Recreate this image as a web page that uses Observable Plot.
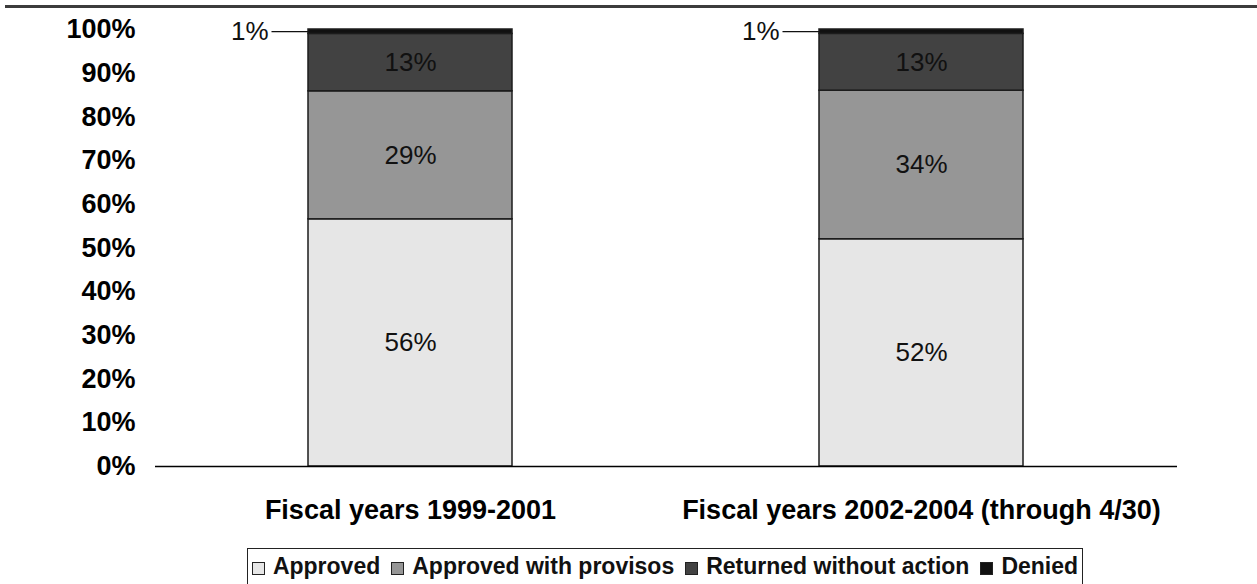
<!DOCTYPE html>
<html>
<head>
<meta charset="utf-8">
<script src="https://cdn.jsdelivr.net/npm/d3@7"></script>
<script src="https://cdn.jsdelivr.net/npm/@observablehq/plot@0.6"></script>
<style>
html, body { margin: 0; padding: 0; background: #fff; }
#wrap { position: relative; width: 1257px; height: 584px; overflow: hidden; font-family: "Liberation Sans", Arial, Helvetica, sans-serif; }
#rule { position: absolute; left: 5px; right: 0; top: 5px; height: 3px; background: #3c3c3c; }
#chart { position: absolute; left: 0; top: 0; }
#legend { position: absolute; top: 548px; left: 247px; width: 836px; height: 50px; box-sizing: border-box; border: 1.5px solid #222; display: flex; justify-content: center; align-items: center; align-content: flex-start; padding-top: 4px; height: 60px; align-items: flex-start; font-weight: bold; font-size: 23px; line-height: 26px; color: #111; }
.item { display: flex; align-items: center; margin-right: 11px; white-space: nowrap; }
.item:last-child { margin-right: 0; }
.sw { width: 11px; height: 11px; border: 1px solid #222; margin-right: 8px; position: relative; top: 2px; }
</style>
</head>
<body>
<div id="wrap">
  <div id="rule"></div>
  <div id="chart"></div>
  <div id="legend"></div>
</div>
<script>
// ---- data ----
const periods = ["Fiscal years 1999-2001", "Fiscal years 2002-2004 (through 4/30)"];
const statuses = ["Approved", "Approved with provisos", "Returned without action", "Denied"];
const approved = [56, 52];
const provisos = [29, 34];
const returned = [13, 13];
const denied = [1, 1];
const yTicks = [0, 10, 20, 30, 40, 50, 60, 70, 80, 90, 100];

// ---- styles ----
const colors = ["#e6e6e6", "#969696", "#424242", "#111111"];

const series = [approved, provisos, returned, denied];
const data = periods.flatMap((p, i) =>
  statuses.map((s, j) => ({period: p, status: s, value: series[j][i]}))
);

const stackOpts = {x: "period", y: "value", z: "status", offset: "normalize"};
const leader = {draw(ctx) { ctx.moveTo(-37, 0); ctx.lineTo(0, 0); }};

const plot = Plot.plot({
  width: 1257,
  height: 540,
  marginTop: 29,
  marginBottom: 74,
  marginLeft: 155,
  marginRight: 80,
  style: {fontFamily: "'Liberation Sans', Arial, Helvetica, sans-serif", background: "transparent", color: "#000", overflow: "visible"},
  x: {domain: periods, paddingInner: 0.6, paddingOuter: 0.3, label: null},
  y: {domain: [0, 1], label: null},
  color: {domain: statuses, range: colors},
  opacity: {type: "identity"},
  marks: [
    Plot.barY(data, Plot.stackY({...stackOpts, fill: "status", stroke: "#1c1c1c", strokeWidth: 1.5})),
    Plot.ruleY([0], {stroke: "#000", strokeWidth: 1.5}),
    Plot.text(data, Plot.stackY({...stackOpts,
      text: d => d.status === "Denied" ? "" : d.value + "%",
      fontSize: 26, fill: "#111"})),
    Plot.text(data, Plot.stackY({...stackOpts,
      text: d => d.status === "Denied" ? d.value + "%" : "",
      fontSize: 26, fill: "#111", textAnchor: "end", dx: -142})),
    Plot.dot(data, Plot.stackY({...stackOpts,
      symbol: leader, stroke: "#111", strokeWidth: 1.2, fill: "none",
      strokeOpacity: d => d.status === "Denied" ? 1 : 0, dx: -102})),
    Plot.axisY({ticks: yTicks.map(t => t / 100), tickSize: 0, tickPadding: 20,
      tickFormat: d => Math.round(d * 100) + "%", fontSize: 27, fontWeight: "bold", fill: "#000", label: null}),
    Plot.axisX({tickSize: 0, tickPadding: 33, fontSize: 27, fontWeight: "bold", fill: "#000", label: null})
  ]
});
document.getElementById("chart").appendChild(plot);

// legend
const legend = d3.select("#legend");
statuses.forEach((s, i) => {
  const item = legend.append("div").attr("class", "item");
  item.append("div").attr("class", "sw").style("background", colors[i]);
  item.append("span").text(s);
});
</script>
</body>
</html>
